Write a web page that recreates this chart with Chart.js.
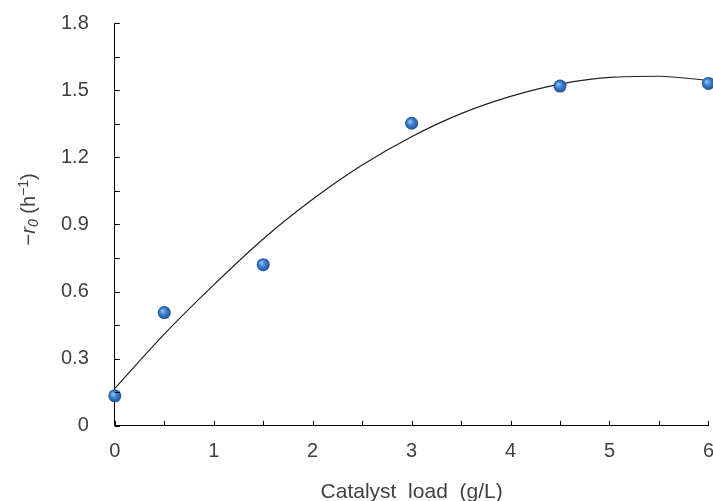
<!DOCTYPE html>
<html>
<head>
<meta charset="utf-8">
<script src="https://cdn.jsdelivr.net/npm/chart.js@4"></script>
<style>
  html, body { margin: 0; padding: 0; background: #fff; overflow: hidden; }
  #wrap { width: 720px; height: 508px; margin-top: -7px; }
</style>
</head>
<body>
<div id="wrap"><canvas id="rateChart" width="720" height="508"></canvas></div>
<script>
// measured points
const catalystLoad = [0, 0.5, 1.5, 3, 4.5, 6];
const initialRate = [0.134, 0.506, 0.72, 1.352, 1.518, 1.53];

// fitted trend curve
const curveX = [0, 0.5, 1, 1.5, 2, 2.5, 3, 3.5, 4, 4.5, 5, 5.5, 6];
const curveY = [0.167, 0.41, 0.63, 0.835, 1.012, 1.165, 1.292, 1.395, 1.472, 1.527, 1.557, 1.562, 1.543];

const yTicks = [0, 0.3, 0.6, 0.9, 1.2, 1.5, 1.8];
const xTicks = [0, 1, 2, 3, 4, 5, 6];
const yMinorTicks = [0.15, 0.45, 0.75, 1.05, 1.35, 1.65];
const xMinorTicks = [0.5, 1.5, 2.5, 3.5, 4.5, 5.5];

const labelFont = 'Arial, "Liberation Sans", sans-serif';

function sphere(context) {
    const chart = context.chart;
    const el = context.element;
    if (!el || el.x === undefined) return '#3a78c6';
    const g = chart.ctx.createRadialGradient(el.x - 2, el.y - 2, 0.5, el.x, el.y, 6.5);
    g.addColorStop(0, '#8fc0f0');
    g.addColorStop(0.45, '#3f82d0');
    g.addColorStop(1, '#1d4f94');
    return g;
}

// ticks drawn inward, majors and minors alike
const innerTicks = {
    id: 'innerTicks',
    afterDraw(chart) {
        const ctx = chart.ctx;
        const xs = chart.scales.x, ys = chart.scales.y;
        const area = chart.chartArea;
        ctx.save();
        ctx.strokeStyle = '#000';
        ctx.lineWidth = 1;
        ctx.beginPath();
        yTicks.concat(yMinorTicks).forEach(v => {
            const p = Math.round(ys.getPixelForValue(v)) + 0.5;
            ctx.moveTo(area.left, p);
            ctx.lineTo(area.left + 5, p);
        });
        xTicks.concat(xMinorTicks).forEach(v => {
            const p = Math.round(xs.getPixelForValue(v)) + 0.5;
            ctx.moveTo(p, area.bottom);
            ctx.lineTo(p, area.bottom - 5);
        });
        ctx.stroke();
        ctx.restore();
    }
};

// y title with italic r0 and superscript -1
const yTitle = {
    id: 'yTitle',
    afterDraw(chart) {
        const ctx = chart.ctx;
        const size = 20;
        const small = Math.round(size * 0.72);
        const parts = [
            { t: '\u2212', f: size + 'px ' + labelFont, dy: 0 },
            { t: 'r', f: 'italic ' + size + 'px ' + labelFont, dy: 0 },
            { t: '0', f: 'italic ' + small + 'px ' + labelFont, dy: 3 },
            { t: '\u00a0(h', f: size + 'px ' + labelFont, dy: 0 },
            { t: '\u22121', f: small + 'px ' + labelFont, dy: -7 },
            { t: ')', f: size + 'px ' + labelFont, dy: 0 }
        ];
        ctx.save();
        let total = 0;
        parts.forEach(p => { ctx.font = p.f; p.w = ctx.measureText(p.t).width; total += p.w; });
        const area = chart.chartArea;
        ctx.translate(35, (area.top + area.bottom) / 2 - 15);
        ctx.rotate(-Math.PI / 2);
        ctx.fillStyle = '#404040';
        ctx.textBaseline = 'alphabetic';
        let x = -total / 2;
        parts.forEach(p => {
            ctx.font = p.f;
            ctx.fillText(p.t, x, p.dy);
            x += p.w;
        });
        ctx.restore();
    }
};

new Chart(document.getElementById('rateChart'), {
    type: 'scatter',
    data: {
        datasets: [{
            label: 'fit',
            type: 'line',
            data: curveX.map((x, i) => ({ x: x, y: curveY[i] })),
            borderColor: '#222',
            borderWidth: 1.2,
            pointRadius: 0,
            tension: 0.4,
            cubicInterpolationMode: 'monotone',
            fill: false,
            order: 2
        }, {
            label: 'data',
            data: catalystLoad.map((x, i) => ({ x: x, y: initialRate[i] })),
            pointRadius: 6.5,
            pointBorderWidth: 0,
            pointBackgroundColor: sphere,
            clip: false,
            order: 1
        }]
    },
    options: {
        responsive: false,
        animation: false,
        events: [],
        layout: {
            padding: { top: 0, right: 0, bottom: -4, left: 43 }
        },
        plugins: {
            legend: { display: false },
            tooltip: { enabled: false }
        },
        scales: {
            x: {
                type: 'linear',
                min: 0,
                max: 6,
                grid: { display: false },
                border: { display: true, color: '#000', width: 1 },
                ticks: {
                    stepSize: 1,
                    color: '#404040',
                    padding: 6,
                    font: { family: labelFont, size: 20 }
                },
                title: {
                    display: true,
                    text: 'Catalyst  load  (g/L)',
                    color: '#404040',
                    font: { family: labelFont, size: 21 },
                    padding: { top: 10, bottom: 0 }
                }
            },
            y: {
                min: 0,
                max: 1.8,
                grid: { display: false },
                border: { display: true, color: '#000', width: 1 },
                ticks: {
                    stepSize: 0.3,
                    color: '#404040',
                    padding: 18,
                    font: { family: labelFont, size: 20 }
                }
            }
        }
    },
    plugins: [innerTicks, yTitle]
});
</script>
</body>
</html>
